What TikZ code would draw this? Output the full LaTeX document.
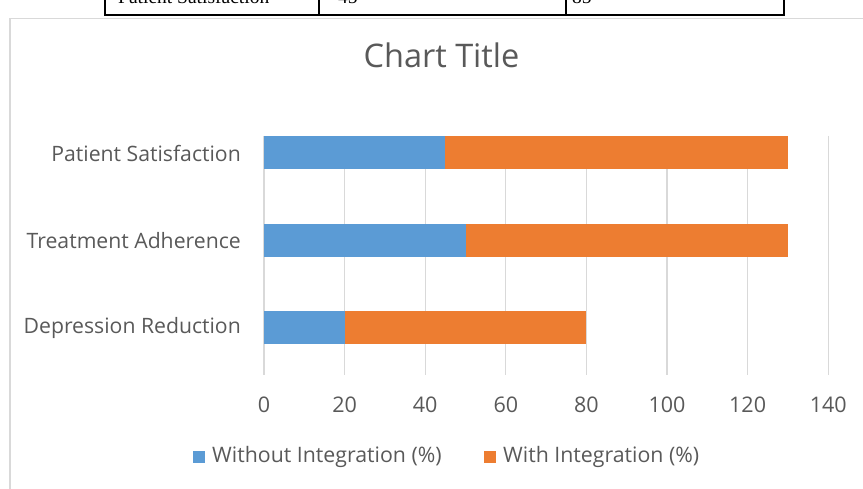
\documentclass[tikz,border=0pt]{standalone}
\usepackage{fontspec}
\setmainfont{Open Sans}
\newfontfamily\tabfont{Liberation Serif}
\definecolor{axisgray}{HTML}{595959}
\definecolor{gridgray}{HTML}{D9D9D9}
\definecolor{barblue}{HTML}{5B9BD5}
\definecolor{barorange}{HTML}{ED7D31}
\tikzstyle{tabline} = [draw=black, line width=1.2pt]
\tikzstyle{tabtext} = [font={\tabfont\fontsize{19.5}{20}\selectfont}, inner sep=0pt, anchor=base west]
\tikzstyle{catlabel} = [text=axisgray, font={\fontsize{21.2}{22}\selectfont}, anchor=east, inner sep=0pt]
\tikzstyle{ticklabel} = [text=axisgray, font={\fontsize{21.5}{22}\selectfont}, inner sep=0pt]
\tikzstyle{legtext} = [text=axisgray, font={\fontsize{21.3}{22}\selectfont}, anchor=west, inner sep=0pt]
\tikzstyle{grid} = [draw=gridgray, line width=1.2pt]

\begin{document}
\begin{tikzpicture}[x=1pt,y=-1pt]
  \useasboundingbox (0,0) rectangle (863,489);
  \clip (0,0) rectangle (863,489);
  % bottom row of the table above the chart
  \draw[tabline] (105,-10) -- (105,15) -- (784,15) -- (784,-10);
  \draw[tabline] (319,-10) -- (319,15);
  \draw[tabline] (566,-10) -- (566,15);
  \node[tabtext](rowname) at (118,4){Patient Satisfaction};
  \node[tabtext](rowa) at (338,4){45};
  \node[tabtext](rowb) at (572,4){85};
  % chart frame
  \draw[draw=gridgray, line width=1.5pt] (10,500) -- (10,18.5) -- (880,18.5);
  \node[text=axisgray, font={\fontsize{32.5}{34}\selectfont}](title) at (441.5,55){Chart Title};
  % grid and axis values (x = 264 + 4.03*value)
  \foreach \v in {0,20,...,140}{
    \draw[grid] ({264+4.03*\v},136) -- ({264+4.03*\v},375);
    \node[ticklabel](t\v) at ({264+4.03*\v},405){\v};
  }
  % bars
  \foreach \y/\a/\b/\name in {153/45/85/Patient Satisfaction,
                              241/50/80/Treatment Adherence,
                              328/20/60/Depression Reduction}{
    \fill[barblue] (264,\y-16.5) rectangle ({264+4.03*\a},\y+16.5);
    \fill[barorange] ({264+4.03*\a},\y-16.5) rectangle ({264+4.03*(\a+\b)},\y+16.5);
    \node[catlabel] at (241,\y){\name};
  }
  % legend
  \fill[barblue] (193,451) rectangle (205,463);
  \node[legtext](lwo) at (212,457){Without Integration (\%)};
  \fill[barorange] (484,451) rectangle (496,463);
  \node[legtext](lw) at (503,457){With Integration (\%)};
\end{tikzpicture}
\end{document}
